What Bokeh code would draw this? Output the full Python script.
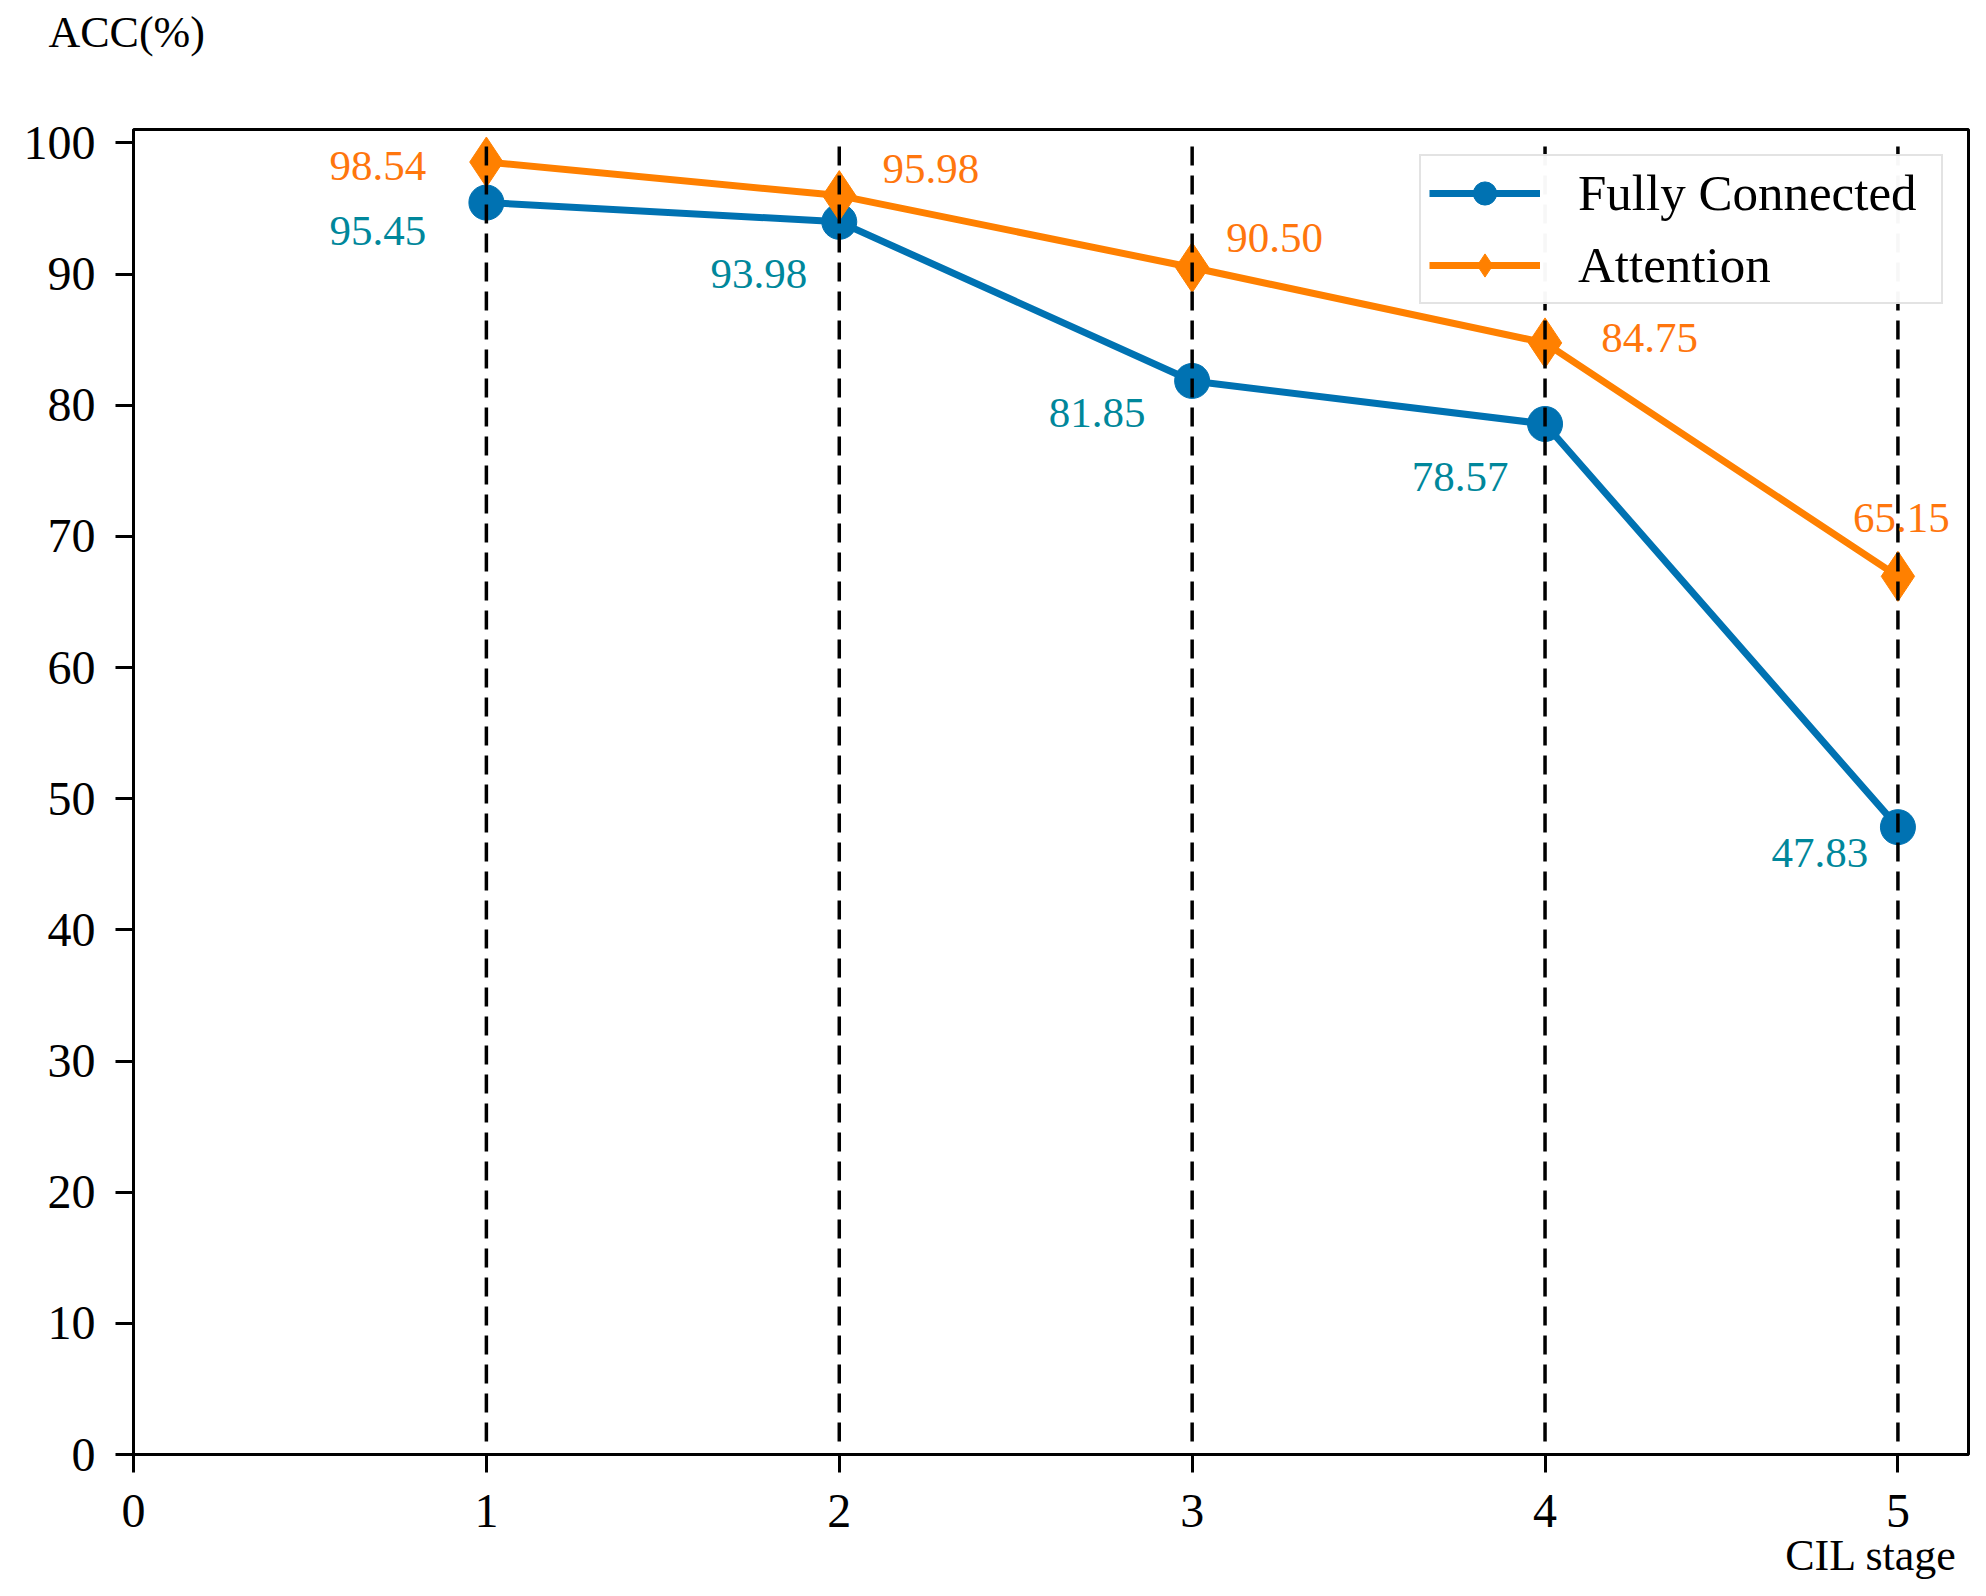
from bokeh.plotting import figure
from bokeh.models import Range1d, FixedTicker, Legend, LegendItem, Title, ColumnDataSource
from bokeh.embed import file_html
from bokeh.resources import INLINE
from bokeh.core.properties import value

# ---- data ----
stages = [1, 2, 3, 4, 5]
fc_acc = [95.45, 93.98, 81.85, 78.57, 47.83]
att_acc = [98.54, 95.98, 90.50, 84.75, 66.95]
fc_text = ["95.45", "93.98", "81.85", "78.57", "47.83"]
att_text = ["98.54", "95.98", "90.50", "84.75", "65.15"]
x_ticks = [0, 1, 2, 3, 4, 5]
y_ticks = [0, 10, 20, 30, 40, 50, 60, 70, 80, 90, 100]
series_names = ["Fully Connected", "Attention"]
y_title = "ACC(%)"
x_title = "CIL stage"

# ---- styling ----
FONT = "Liberation Serif"
BLUE = "#0072B2"
ORANGE = "#FF8000"
TEAL_TXT = "#00879B"
ORANGE_TXT = "#FF760D"
# label offsets in screen pixels (x: centre, y: downwards)
fc_dx = [-108.5, -80.5, -95, -85, -78]
fc_dy = [28, 52, 32.5, 53, 26]
att_dx = [-108.5, 91.5, 82.5, 104.7, 3.5]
att_dy = [4, -27, -29, -5.4, -58]

p = figure(width=1970, height=1580, output_backend="svg", toolbar_location=None,
           x_range=Range1d(0, 5.2), y_range=Range1d(0, 101.02),
           min_border_left=133, min_border_right=2,
           min_border_top=129, min_border_bottom=126)
p.grid.visible = False
p.outline_line_color = "black"
p.outline_line_width = 3
p.background_fill_color = "white"
p.border_fill_color = "white"

for ax, ticks in ((p.xaxis[0], x_ticks), (p.yaxis[0], y_ticks)):
    ax.ticker = FixedTicker(ticks=ticks, minor_ticks=[])
    ax.axis_line_width = 3
    ax.axis_line_color = "black"
    ax.major_tick_line_width = 3
    ax.major_tick_line_color = "black"
    ax.major_tick_out = 18
    ax.major_tick_in = 0
    ax.minor_tick_out = 0
    ax.minor_tick_in = 0
    ax.major_label_text_font = FONT
    ax.major_label_text_font_size = "48px"
    ax.major_label_text_color = "black"
p.xaxis[0].major_label_standoff = 22
p.yaxis[0].major_label_standoff = 20

src_fc = ColumnDataSource(dict(x=stages, y=fc_acc, t=fc_text, dx=fc_dx, dy=fc_dy))
src_at = ColumnDataSource(dict(x=stages, y=att_acc, t=att_text, dx=att_dx, dy=att_dy))

fc_line = p.line("x", "y", source=src_fc, line_color=BLUE, line_width=7)
fc_pts = p.scatter("x", "y", source=src_fc, marker="circle", size=35,
                   fill_color=BLUE, line_color=BLUE)
at_line = p.line("x", "y", source=src_at, line_color=ORANGE, line_width=7)
at_pts = p.scatter("x", "y", source=src_at, marker="diamond", size=50,
                   fill_color=ORANGE, line_color=ORANGE)

# dashed guide lines at each stage
vsrc = ColumnDataSource(dict(x=stages, y0=[1.0] * len(stages), y1=[100.4] * len(stages)))
p.segment(x0="x", y0="y0", x1="x", y1="y1", source=vsrc,
          line_color="black", line_width=3.5, line_dash="19 10")

p.text("x", "y", text="t", source=src_fc, x_offset="dx", y_offset="dy",
       text_align="center", text_baseline="alphabetic",
       text_font=value(FONT), text_font_size="43px", text_color=TEAL_TXT)
p.text("x", "y", text="t", source=src_at, x_offset="dx", y_offset="dy",
       text_align="center", text_baseline="alphabetic",
       text_font=value(FONT), text_font_size="43px", text_color=ORANGE_TXT)

legend = Legend(items=[LegendItem(label=series_names[0], renderers=[fc_line, fc_pts]),
                       LegendItem(label=series_names[1], renderers=[at_line, at_pts])],
                location="top_right", margin=25, padding=8, spacing=14,
                glyph_width=111, glyph_height=58, label_standoff=38, label_width=355,
                label_text_font=FONT, label_text_font_size="51px",
                label_text_color="black", label_text_baseline="middle",
                border_line_color="#c8c8c8", border_line_width=2,
                background_fill_color="white", background_fill_alpha=0.97)
p.add_layout(legend)

# axis titles: y title sits above the axis (a blank spacer title lifts it), x title under tick 5
p.add_layout(Title(text=" ", text_font_size="10px", standoff=60), "above")
p.add_layout(Title(text=y_title, align="left", offset=-85, standoff=0,
                   text_font=FONT, text_font_size="44px", text_font_style="normal",
                   text_color="black"), "above")
p.add_layout(Title(text=x_title, align="right", offset=11, standoff=-2,
                   text_font=FONT, text_font_size="44px", text_font_style="normal",
                   text_color="black"), "below")

open("out.html", "w").write(file_html(p, INLINE))
